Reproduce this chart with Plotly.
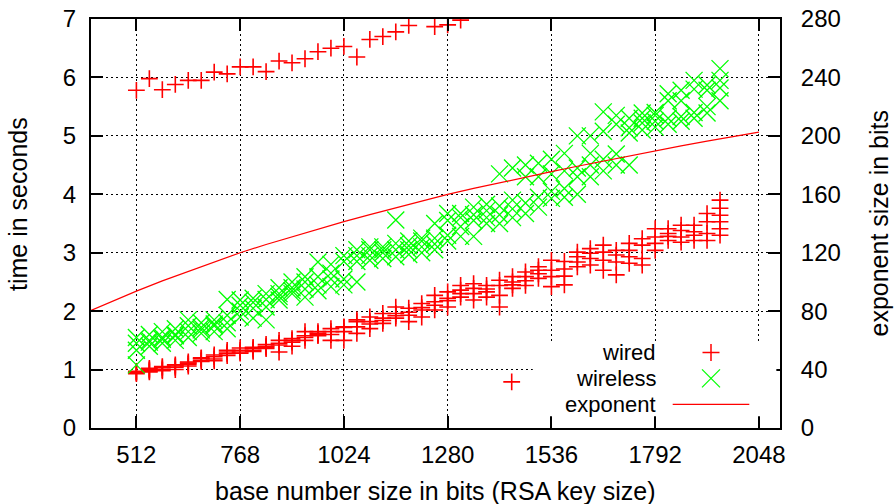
import plotly.graph_objects as go

FONT = "Liberation Sans"

# ---------------- data ----------------
key_sizes = [512, 544, 576, 608, 640, 672, 704, 736, 768, 800, 832, 864, 896, 928,
             960, 992, 1024, 1056, 1088, 1120, 1152, 1184, 1216, 1248, 1280, 1312,
             1344, 1376, 1408, 1440, 1472, 1504, 1536, 1568, 1600, 1632, 1664, 1696,
             1728, 1760, 1792, 1824, 1856, 1888, 1920, 1952]

wired_times = [
    [0.93, 0.96, 0.97, 0.95], [0.96, 1.00, 0.98, 1.02], [0.98, 1.03, 1.00, 1.05],
    [1.00, 1.08, 1.04, 1.06], [1.06, 1.11, 1.09, 1.13], [1.14, 1.19, 1.16, 1.20],
    [1.18, 1.22, 1.15, 1.25], [1.27, 1.30, 1.33, 1.24], [1.30, 1.33, 1.37, 1.28],
    [1.33, 1.36, 1.38, 1.31], [1.38, 1.40, 1.43, 1.36], [1.30, 1.45, 1.50, 1.42],
    [1.47, 1.50, 1.40, 1.53], [1.50, 1.58, 1.65, 1.55], [1.58, 1.65, 1.60, 1.62],
    [1.50, 1.60, 1.70, 1.65], [1.50, 1.65, 1.73, 1.72], [1.62, 1.73, 1.82, 1.85],
    [1.70, 1.82, 1.90, 1.78], [1.79, 1.88, 1.96, 1.84], [1.88, 1.96, 2.07, 1.92],
    [1.82, 1.93, 2.05, 1.98], [1.90, 2.02, 2.13, 2.06], [2.02, 2.16, 2.27, 2.10],
    [2.07, 2.22, 2.33, 2.18], [2.24, 2.36, 2.44, 2.30], [2.19, 2.30, 2.39, 2.47],
    [2.24, 2.33, 2.44, 2.38], [2.07, 2.27, 2.44, 2.53], [2.39, 2.50, 2.59, 2.45],
    [2.44, 2.59, 2.67, 2.52], [2.56, 2.64, 2.76, 2.70], [2.42, 2.59, 2.70, 2.87],
    [2.45, 2.60, 2.72, 2.85], [2.76, 2.84, 2.93, 3.01], [2.79, 2.90, 2.99, 3.07],
    [2.70, 2.87, 3.01, 3.13], [2.62, 2.84, 2.96, 3.04], [2.82, 2.93, 3.04, 3.16],
    [2.79, 2.90, 3.13, 3.24], [3.04, 3.16, 3.27, 3.41], [3.21, 3.33, 3.41, 3.28],
    [3.18, 3.27, 3.38, 3.47], [3.21, 3.36, 3.47, 3.30], [3.21, 3.33, 3.53, 3.67],
    [3.30, 3.41, 3.53, 3.64, 3.76, 3.90],
]

wireless_times = [
    [1.08, 1.33, 1.45, 1.55], [1.40, 1.50, 1.60, 1.47], [1.45, 1.55, 1.65, 1.52],
    [1.50, 1.60, 1.70, 1.58], [1.55, 1.65, 1.75, 1.85], [1.62, 1.72, 1.80, 1.68],
    [1.65, 1.75, 1.85, 1.78], [1.70, 1.80, 1.93, 2.20], [1.90, 2.00, 2.10, 2.19],
    [1.88, 2.05, 2.15, 2.22], [1.85, 2.07, 2.20, 2.30], [2.19, 2.30, 2.40, 2.25],
    [2.30, 2.40, 2.50, 2.35], [2.24, 2.38, 2.50, 2.59], [2.35, 2.45, 2.59, 2.84],
    [2.42, 2.55, 2.65, 2.80], [2.45, 2.55, 2.85, 2.95], [2.50, 2.85, 2.95, 3.05],
    [2.87, 2.95, 3.05, 3.10], [2.90, 3.00, 3.10, 3.05], [2.93, 3.05, 3.16, 3.56],
    [2.97, 3.05, 3.12, 3.20], [3.00, 3.10, 3.20, 3.25], [3.05, 3.15, 3.25, 3.50],
    [3.20, 3.30, 3.55, 3.67], [3.28, 3.45, 3.60, 3.67], [3.28, 3.55, 3.65, 3.78],
    [3.50, 3.60, 3.72, 3.83], [3.50, 3.65, 3.80, 4.35], [3.60, 3.75, 3.90, 4.45],
    [3.67, 3.85, 4.30, 4.50], [3.78, 3.95, 4.30, 4.53], [3.93, 4.05, 4.35, 4.60],
    [3.95, 4.10, 4.40, 4.70], [4.00, 4.30, 4.45, 5.00], [4.30, 4.50, 4.70, 5.00],
    [4.40, 4.60, 5.08, 5.41], [4.50, 4.69, 5.20, 5.35], [4.50, 5.05, 5.14, 5.30],
    [5.10, 5.22, 5.39, 5.30], [5.15, 5.25, 5.35, 5.40], [5.20, 5.30, 5.60, 5.72],
    [5.25, 5.33, 5.60, 5.78], [5.30, 5.40, 5.80, 5.95], [5.39, 5.50, 5.78, 5.87],
    [5.60, 5.82, 5.95, 6.15],
]

wired_slow_sizes = [512, 544, 576, 608, 640, 672, 704, 736, 768, 800, 832, 864, 896,
                    928, 960, 992, 1024, 1056, 1088, 1120, 1152, 1184, 1248, 1280, 1312]
wired_slow_times = [5.78, 5.98, 5.79, 5.88, 5.95, 5.95, 6.09, 6.06, 6.18, 6.18, 6.10,
                    6.28, 6.25, 6.32, 6.44, 6.50, 6.53, 6.35, 6.65, 6.70, 6.78, 6.89,
                    6.87, 6.90, 6.98]
wired_outlier_sizes = [1438]
wired_outlier_times = [0.79]

exponent_sizes = [400, 448, 512, 576, 640, 704, 768, 832, 896, 960, 1024, 1088, 1152,
                  1216, 1280, 1344, 1408, 1472, 1536, 1600, 1664, 1728, 1792, 1856,
                  1920, 1984, 2048]
exponent_bits = [80.5, 86.3, 93.7, 100.7, 107.3, 113.8, 120.0, 125.6, 131.0, 136.3,
                 141.3, 146.1, 150.8, 155.4, 159.9, 164.0, 168.0, 171.8, 175.5, 179.2,
                 182.8, 186.4, 189.9, 193.2, 196.4, 199.5, 202.5]

x_ticks = [512, 768, 1024, 1280, 1536, 1792, 2048]
y_ticks = [0, 1, 2, 3, 4, 5, 6, 7]
y2_ticks = [0, 40, 80, 120, 160, 200, 240, 280]

# ---------------- flatten ----------------
wired_x, wired_y = [], []
for s, ts in zip(key_sizes, wired_times):
    for t in ts:
        wired_x.append(s)
        wired_y.append(t)
wired_x += wired_slow_sizes + wired_outlier_sizes
wired_y += wired_slow_times + wired_outlier_times

wl_x, wl_y = [], []
for s, ts in zip(key_sizes, wireless_times):
    for t in ts:
        wl_x.append(s)
        wl_y.append(t)

RED = "#ff0000"
GREEN = "#00ff00"

fig = go.Figure()
fig.add_trace(go.Scatter(
    x=wired_x, y=wired_y, mode="markers", name="wired",
    marker=dict(symbol="cross-thin", size=12, line=dict(color=RED, width=1.6)),
    showlegend=False))
fig.add_trace(go.Scatter(
    x=wl_x, y=wl_y, mode="markers", name="wireless",
    marker=dict(symbol="x-thin", size=17, line=dict(color=GREEN, width=1.3)),
    showlegend=False))
fig.add_trace(go.Scatter(
    x=exponent_sizes, y=exponent_bits, mode="lines", name="exponent", yaxis="y2",
    line=dict(color=RED, width=1.2), showlegend=False))

tickfont = dict(family=FONT, size=24, color="black")
grid = dict(showgrid=True, gridcolor="#000000", gridwidth=1, griddash="2px,3px")

fig.update_layout(
    template="none",
    width=896, height=504,
    margin=dict(l=91, r=116, t=19, b=76, pad=0, autoexpand=False),
    paper_bgcolor="white", plot_bgcolor="white",
    font=dict(family=FONT, size=24, color="black"),
    showlegend=False,
    xaxis=dict(range=[400, 2100], tickvals=x_ticks, ticktext=[str(v) for v in x_ticks],
               ticks="inside", ticklen=12, tickwidth=2, tickcolor="black",
               showline=True, linecolor="black", linewidth=2, mirror="ticks",
               tickfont=tickfont, zeroline=False, ticklabelstandoff=4,
               automargin=False, **grid),
    yaxis=dict(range=[0, 7], tickvals=y_ticks, ticks="inside", ticklen=12, tickwidth=2,
               tickcolor="black", showline=True, linecolor="black", linewidth=2,
               tickfont=tickfont, zeroline=False, ticklabelstandoff=8,
               automargin=False, **grid),
    yaxis2=dict(range=[0, 280], tickvals=y2_ticks, overlaying="y", side="right",
                ticks="inside", ticklen=12, tickwidth=2, tickcolor="black",
                showline=True, linecolor="black", linewidth=2, showgrid=False,
                tickfont=tickfont, zeroline=False, ticklabelstandoff=14,
                automargin=False),
)

TF = dict(family=FONT, size=25, color="black")
KF = dict(family=FONT, size=22, color="black")
# axis titles
fig.add_annotation(text="base number size in bits (RSA key size)", xref="paper", yref="paper",
                   x=(435 - 91) / 689, y=(428 - 491) / 409, xanchor="center", yanchor="middle",
                   showarrow=False, font=TF)
fig.add_annotation(text="time in seconds", xref="paper", yref="paper", textangle=-90,
                   x=(18 - 91) / 689, y=(428 - 204) / 409, xanchor="center", yanchor="middle",
                   showarrow=False, font=TF)
fig.add_annotation(text="exponent size in bits", xref="paper", yref="paper", textangle=-90,
                   x=(878 - 91) / 689, y=0.5, xanchor="center", yanchor="middle",
                   showarrow=False, font=TF)

# opaque key box (clears grid behind the key, like gnuplot)
fig.add_shape(type="rect", xref="x", yref="y", x0=1490, x1=2091, y0=0.2, y1=1.47,
              fillcolor="white", line=dict(width=0), layer="above")

# key
key_text_x = (656.7 - 91) / 689
key_sym_x = (711 - 91) / 689
rows = {"wired": (428 - 352.5) / 409, "wireless": (428 - 378.3) / 409,
        "exponent": (428 - 404.3) / 409}
for label, yy in rows.items():
    fig.add_annotation(text=label, xref="paper", yref="paper", x=key_text_x, y=yy,
                       xanchor="right", yanchor="middle", showarrow=False, font=KF,
                       borderpad=0)
# "+" key
yy = rows["wired"]
fig.add_shape(type="line", xref="paper", yref="paper", xsizemode="pixel", ysizemode="pixel",
              xanchor=key_sym_x, yanchor=yy, x0=-8.5, x1=8.5, y0=0, y1=0,
              line=dict(color=RED, width=1.5))
fig.add_shape(type="line", xref="paper", yref="paper", xsizemode="pixel", ysizemode="pixel",
              xanchor=key_sym_x, yanchor=yy, x0=0, x1=0, y0=-8.5, y1=8.5,
              line=dict(color=RED, width=1.5))
# "x" key
yy = rows["wireless"]
fig.add_shape(type="line", xref="paper", yref="paper", xsizemode="pixel", ysizemode="pixel",
              xanchor=key_sym_x, yanchor=yy, x0=-9, x1=9, y0=-9, y1=9,
              line=dict(color=GREEN, width=1.2))
fig.add_shape(type="line", xref="paper", yref="paper", xsizemode="pixel", ysizemode="pixel",
              xanchor=key_sym_x, yanchor=yy, x0=-9, x1=9, y0=9, y1=-9,
              line=dict(color=GREEN, width=1.2))
# line key
yy = rows["exponent"]
fig.add_shape(type="line", xref="paper", yref="paper",
              x0=(672.7 - 91) / 689, x1=(749.3 - 91) / 689, y0=yy, y1=yy,
              line=dict(color=RED, width=1.2))

fig.write_html("out.html")
